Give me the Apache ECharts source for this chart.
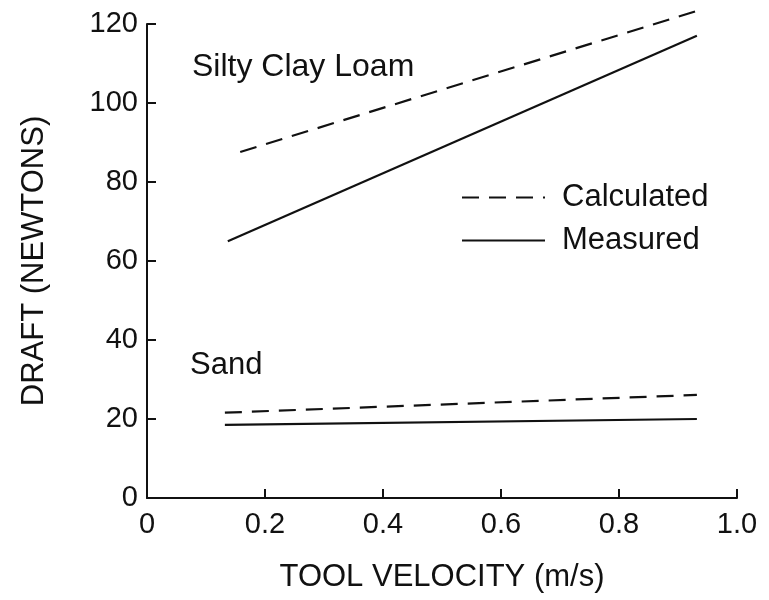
<!DOCTYPE html>
<html>
<head>
<meta charset="utf-8">
<script src="https://cdn.jsdelivr.net/npm/echarts@6/dist/echarts.min.js"></script>
<style>
  html, body { margin: 0; padding: 0; background: #fff; }
  #chart { width: 769px; height: 600px; }
</style>
</head>
<body>
<div id="chart"></div>
<script>
// values
var xTicks = [0, 0.2, 0.4, 0.6, 0.8, 1.0];
var yTicks = [0, 20, 40, 60, 80, 100, 120];

var loamCalc = [[0.158, 87.6], [0.932, 123.3]];
var loamMeas = [[0.137, 65], [0.932, 117]];
var sandCalc = [[0.132, 21.6], [0.932, 26.1]];
var sandMeas = [[0.132, 18.5], [0.932, 20]];

var font = 'Liberation Sans, Arial, sans-serif';

var lineSeries = function(name, data, dashed){
	return {
		name: name,
		type: 'line',
		data: data,
		symbol: 'none',
		silent: true,
		clip: false,
		itemStyle: { color: '#111' },
		lineStyle: {
			color: '#111',
			width: 2.2,
			type: dashed ? [17, 10] : 'solid'
		}
	};
};

var myChart = echarts.init(document.getElementById('chart'));

var option = {
	animation: false,
	backgroundColor: '#fff',
	textStyle: { fontFamily: font },
	grid: { left: 147, right: 32, top: 24, bottom: 102 },
	legend: {
		left: 456,
		top: 177,
		orient: 'vertical',
		itemWidth: 83,
		itemHeight: 14,
		itemGap: 12,
		data: ['Calculated', 'Measured'],
		itemStyle: { opacity: 0 },
		textStyle: { fontFamily: font, fontSize: 31, color: '#111', padding: [0, 0, 0, 12] },
		selectedMode: false
	},
	xAxis: {
		type: 'value',
		min: 0,
		max: 1.0,
		interval: 0.2,
		name: 'TOOL VELOCITY (m/s)',
		nameLocation: 'middle',
		nameGap: 64,
		nameTextStyle: { fontFamily: font, fontSize: 31, color: '#111' },
		axisLine: { lineStyle: { color: '#111', width: 2 } },
		axisTick: { inside: true, length: 9, lineStyle: { color: '#111', width: 2 } },
		splitLine: { show: false },
		axisLabel: {
			fontFamily: font, fontSize: 29, color: '#111', margin: 12,
			formatter: function(v){ return v === 0 ? '0' : v.toFixed(1); }
		}
	},
	yAxis: {
		type: 'value',
		min: 0,
		max: 120,
		interval: 20,
		name: 'DRAFT (NEWTONS)',
		nameLocation: 'middle',
		nameGap: 97,
		nameRotate: 90,
		nameTextStyle: { fontFamily: font, fontSize: 31, color: '#111' },
		axisLine: { show: true, lineStyle: { color: '#111', width: 2 } },
		axisTick: { show: true, inside: true, length: 9, lineStyle: { color: '#111', width: 2 } },
		splitLine: { show: false },
		axisLabel: { fontFamily: font, fontSize: 29, color: '#111', margin: 9 }
	},
	graphic: [
		{ type: 'text', left: 192, top: 51, style: { text: 'Silty Clay Loam', fontFamily: font, fontSize: 32, fill: '#111' } },
		{ type: 'text', left: 190, top: 350, style: { text: 'Sand', fontFamily: font, fontSize: 31, fill: '#111' } }
	],
	series: [
		lineSeries('Calculated', loamCalc, true),
		lineSeries('Measured', loamMeas, false),
		lineSeries('Calculated', sandCalc, true),
		lineSeries('Measured', sandMeas, false)
	]
};

myChart.setOption(option);
</script>
</body>
</html>
